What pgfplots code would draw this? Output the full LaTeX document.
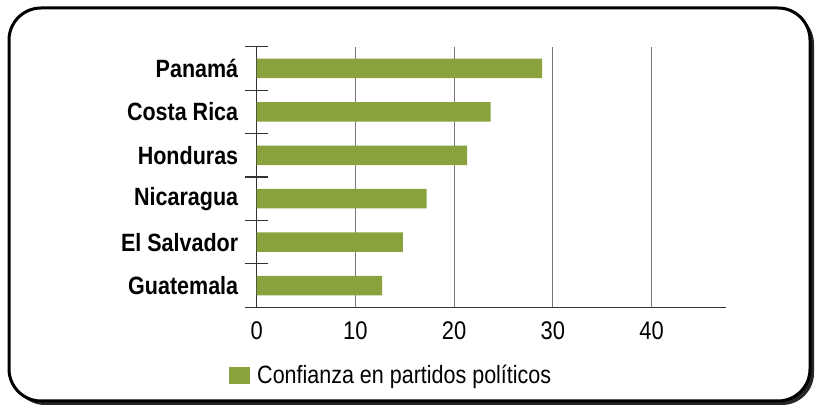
\documentclass[border=0pt]{standalone}
\usepackage{pgfplots}
\pgfplotsset{compat=1.18}
\usepackage{fontspec}
\setmainfont{Liberation Sans}[FakeStretch=0.86]
\definecolor{barg}{RGB}{138,162,62}
\definecolor{gridg}{RGB}{120,120,120}
\begin{document}
\begin{tikzpicture}
\path[use as bounding box] (0,0) rectangle (818pt,409pt);
% frame with a small drop shadow
\fill[black!85, rounded corners=32pt] (13pt,4pt) rectangle (814pt,397pt);
\filldraw[fill=white, draw=black, line width=3pt, rounded corners=32pt] (9pt,8pt) rectangle (810pt,401pt);
\begin{axis}[
  at={(256.7pt,101.7pt)}, anchor=south west,
  scale only axis,
  width=469pt, height=260.6pt,
  xmin=0, xmax=47.5,
  ymin=-0.5, ymax=5.5,
  axis lines=left,
  axis line style={-, draw=black!80, line width=1.2pt},
  xbar, bar width=19.5pt,
  xtick={0,10,20,30,40},
  xmajorgrids,
  grid style={gridg, line width=1.1pt},
  major tick length=0pt,
  /pgf/number format/assume math mode=true,
  ytick={0,1,2,3,4,5},
  yticklabels={Guatemala,El Salvador,Nicaragua,Honduras,Costa Rica,Panamá},
  extra y ticks={-0.5,0.5,1.5,2.5,3.5,4.5,5.5},
  extra y tick labels={},
  extra y tick style={tick align=center, major tick length=23pt, tick style={draw=black!80, line width=1.2pt}, ymajorgrids=false},
  yticklabel style={font=\fontsize{25}{25}\selectfont\bfseries, xshift=-15pt},
  xticklabel style={font=\fontsize{25.5}{25}\selectfont, yshift=-11pt},
  legend style={at={(-0.059,-0.26)}, anchor=west, draw=none, fill=none,
    inner sep=0pt, font=\fontsize{25}{25}\selectfont},
  legend image code/.code={\fill[barg] (0pt,-8.5pt) rectangle (21pt,8.5pt);},
  legend cell align=left,
  /tikz/every odd column/.append style={column sep=5pt},
  clip=false,
]
\addplot[fill=barg, draw=none] coordinates {
  (12.7,0) (14.8,1) (17.2,2) (21.3,3) (23.7,4) (28.9,5)
};
\addlegendentry{Confianza en partidos políticos}
\end{axis}
\end{tikzpicture}
\end{document}
